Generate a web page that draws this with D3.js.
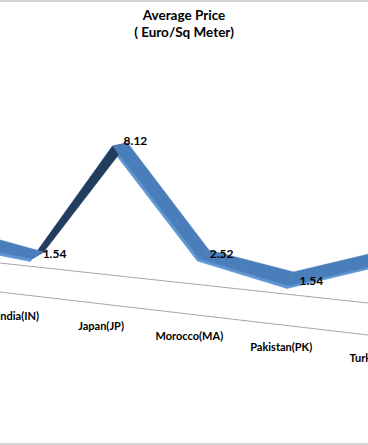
<!DOCTYPE html>
<html>
<head>
<meta charset="utf-8">
<script src="https://cdn.jsdelivr.net/npm/d3@7"></script>
<style>
  html, body { margin: 0; padding: 0; background: #fff; }
  svg { display: block; }
</style>
</head>
<body>
<svg id="chart" width="368" height="445"></svg>
<script>
// ---- data ----
const categories = ["Egypt(EG)", "India(IN)", "Japan(JP)", "Morocco(MA)", "Pakistan(PK)", "Turkey(TR)"];
const values = [1.90, 1.54, 8.12, 2.52, 1.54, 3.26];
const dataLabels = ["", "1.54", "8.12", "2.52", "1.54", ""];
const titleLines = ["Average Price", "( Euro/Sq Meter)"];

// ---- layout ----
const W = 368, H = 445;
const svg = d3.select("#chart");

// perspective-like category scales (point positions and floor label positions)
const x = d3.scalePow().exponent(1.12).domain([0, 5]).range([-37.35, 381.1]);
const xLab = d3.scalePow().exponent(1.117).domain([0, 5]).range([-53, 375.8]);
// value scale (pixel offset above tilted baseline)
const y = d3.scaleLinear().domain([0, 10]).range([0, -184.6]);
// tilted baseline along the depth-rotated floor
const base = d3.scaleLinear().domain([0, W]).range([284.1, 284.1 + 0.105 * W]);
const py = (i, v) => base(x(i)) + y(v);

// background frame bands
svg.append("rect").attr("x", 0).attr("y", 0).attr("width", W).attr("height", H).attr("fill", "#fff");
svg.append("rect").attr("x", 0).attr("y", 0).attr("width", W).attr("height", 2).attr("fill", "#d4d4d4");
svg.append("rect").attr("x", 0).attr("y", H - 2).attr("width", W).attr("height", 2).attr("fill", "#d4d4d4");

// floor edges
const floorBack = d3.scaleLinear().domain([0, W]).range([263, 303]);
const floorFront = d3.scaleLinear().domain([0, W]).range([292, 335]);
[floorBack, floorFront].forEach(f => {
  svg.append("line")
    .attr("x1", 0).attr("y1", f(0)).attr("x2", W).attr("y2", f(W))
    .attr("stroke", "#a6a6a6").attr("stroke-width", 1);
});

// ribbon depth direction varies across the view (perspective)
const depthX = d3.scaleLinear().domain([0, 31, 112, 289, 368]).range([9, 12, 15, 5, 5]).clamp(true);
const depthY = d3.scaleLinear().domain([0, 31, 112, 289, 368]).range([-13, -7, -3, -14, -14]).clamp(true);
const thick = [-1.5, 2.5];

const front = values.map((v, i) => [x(i), py(i, v)]);
const back = front.map(p => [p[0] + depthX(p[0]), p[1] + depthY(p[0])]);
const low = front.map(p => [p[0] + thick[0], p[1] + thick[1]]);

const segs = d3.range(values.length - 1);
const g = svg.append("g");

// thickness strip
segs.forEach(i => {
  g.append("path")
    .attr("d", d3.line()([front[i], front[i + 1], low[i + 1], low[i]]) + "Z")
    .attr("fill", "#5f97d6").attr("stroke", "#5f97d6").attr("stroke-width", 0.6);
});

const isDark = i => {
  const ux = front[i + 1][0] - front[i][0], uy = front[i + 1][1] - front[i][1];
  const dx = (back[i][0] - front[i][0] + back[i + 1][0] - front[i + 1][0]) / 2;
  const dy = (back[i][1] - front[i][1] + back[i + 1][1] - front[i + 1][1]) / 2;
  return ux * dy - uy * dx > 0;
};
const face = i => d3.line()([front[i], front[i + 1], back[i + 1], back[i]]) + "Z";

segs.filter(isDark).forEach(i => {
  g.append("path").attr("d", face(i))
    .attr("fill", "#223d5e").attr("stroke", "#223d5e").attr("stroke-width", 0.6);
});
segs.filter(i => !isDark(i)).forEach(i => {
  g.append("path").attr("d", face(i))
    .attr("fill", "#4a7ebb").attr("stroke", "#4a7ebb").attr("stroke-width", 0.6);
});

// data labels
svg.append("g").selectAll("text").data(values).join("text")
  .attr("x", (d, i) => front[i][0] + 11)
  .attr("y", (d, i) => front[i][1] - 4)
  .attr("dominant-baseline", "middle")
  .attr("font-family", "Lato, 'Open Sans', sans-serif")
  .attr("font-weight", "bold")
  .attr("font-size", 12)
  .attr("fill", "#000")
  .text((d, i) => dataLabels[i]);

// category labels along the floor
svg.append("g").selectAll("text").data(categories).join("text")
  .attr("x", (d, i) => xLab(i))
  .attr("y", (d, i) => floorFront(xLab(i)) + 23)
  .attr("text-anchor", "middle")
  .attr("dominant-baseline", "middle")
  .attr("font-family", "Lato, 'Open Sans', sans-serif")
  .attr("font-weight", "bold")
  .attr("font-size", 11)
  .attr("fill", "#000")
  .text(d => d);

// title
svg.append("g").selectAll("text").data(titleLines).join("text")
  .attr("x", 184)
  .attr("y", (d, i) => 17 + i * 17)
  .attr("text-anchor", "middle")
  .attr("dominant-baseline", "middle")
  .attr("font-family", "Lato, 'Open Sans', sans-serif")
  .attr("font-weight", "bold")
  .attr("font-size", 13.5)
  .attr("fill", "#000")
  .text(d => d);
</script>
</body>
</html>
